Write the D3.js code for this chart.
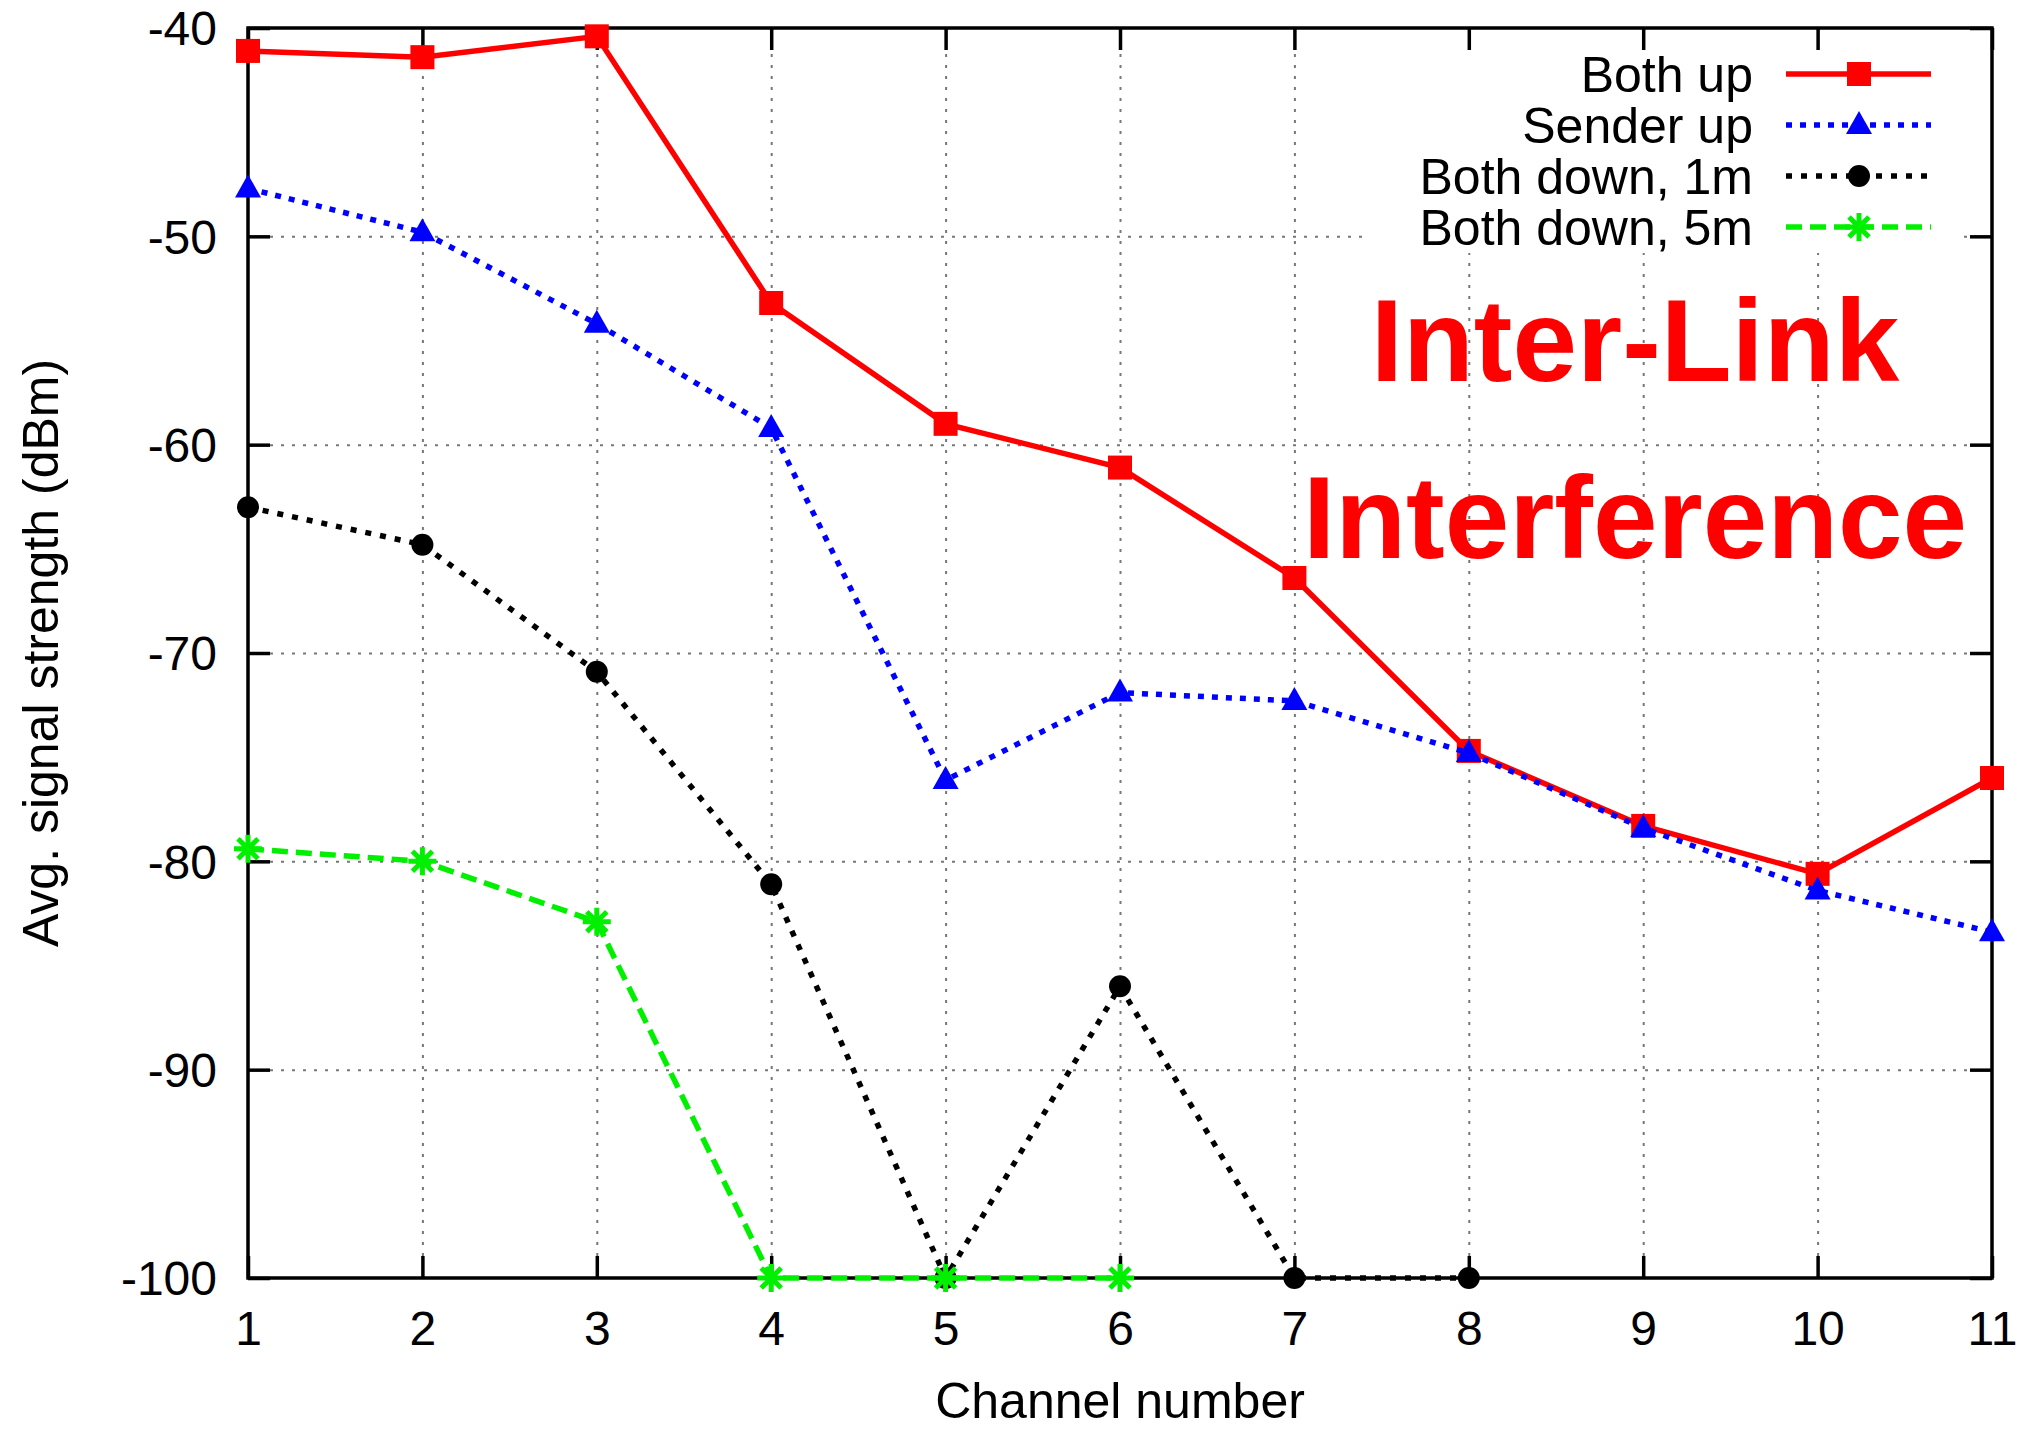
<!DOCTYPE html>
<html>
<head>
<meta charset="utf-8">
<script src="https://cdn.jsdelivr.net/npm/d3@7"></script>
<style>
	body { margin: 0; background: #fff; }
	svg { display: block; font-family: "Liberation Sans", Arial, sans-serif; }
	.axis path, .axis line { stroke: #000; }
	.grid line { stroke: #777; stroke-width: 2; stroke-dasharray: 3,8; }
	.grid path { display: none; }
</style>
</head>
<body>
<div class="plotWin"></div>
<script>

var channels = [1, 2, 3, 4, 5, 6, 7, 8, 9, 10, 11];
var yTicks = [-100, -90, -80, -70, -60, -50, -40];

var bothUp = [-41.1, -41.4, -40.4, -53.2, -59.0, -61.1, -66.4, -74.7, -78.3, -80.6, -76.0];
var senderUp = [-47.7, -49.8, -54.2, -59.2, -76.1, -71.9, -72.3, -74.8, -78.4, -81.4, -83.4];
var bothDown1m = [-63.0, -64.8, -70.9, -81.1, -100, -86.0, -100, -100];
var bothDown5m = [-79.4, -80.0, -82.9, -100, -100, -100];

var seriesNames = ["Both up", "Sender up", "Both down, 1m", "Both down, 5m"];

var SVG_WIDTH = 2041,
	SVG_HEIGHT = 1429,
	LEFT = 248,
	RIGHT = 1992,
	TOP = 28,
	BOTTOM = 1278,
	TICK = 22;

var svg = d3.select(".plotWin")
	.append("svg")
		.attr("width", SVG_WIDTH)
		.attr("height", SVG_HEIGHT);

var x = d3.scaleLinear().domain([1, 11]).range([LEFT, RIGHT]);
var y = d3.scaleLinear().domain([-100, -40]).range([BOTTOM, TOP]);

// grid lines (inner only)
svg.append("g")
	.attr("class", "grid")
	.attr("transform", "translate(0," + BOTTOM + ")")
	.call(d3.axisBottom(x).tickValues(channels.slice(1, -1)).tickSize(-(BOTTOM - TOP)).tickFormat(""));
svg.append("g")
	.attr("class", "grid")
	.attr("transform", "translate(" + LEFT + ",0)")
	.call(d3.axisLeft(y).tickValues(yTicks.slice(1, -1)).tickSize(-(RIGHT - LEFT)).tickFormat(""));

// white key box hides the grid behind the legend
svg.append("rect")
	.attr("x", 1362).attr("y", TOP + 3)
	.attr("width", 596).attr("height", 222)
	.attr("fill", "#fff");

// axes with inward ticks on all four sides
function styleAxis(g) {
	g.select(".domain").remove();
	g.selectAll(".tick line").attr("stroke-width", 3.5);
	g.selectAll(".tick text").attr("font-size", 48).attr("fill", "#000");
}

svg.append("g")
	.attr("class", "axis")
	.attr("transform", "translate(0," + BOTTOM + ")")
	.call(d3.axisBottom(x).tickValues(channels).tickSizeInner(-TICK).tickSizeOuter(0).tickPadding(0))
	.call(styleAxis)
	.selectAll(".tick text").attr("y", 0).attr("dy", 0).attr("transform", "translate(0,67)");

svg.append("g")
	.attr("class", "axis")
	.attr("transform", "translate(0," + TOP + ")")
	.call(d3.axisTop(x).tickValues(channels).tickSizeInner(-TICK).tickSizeOuter(0).tickFormat(""))
	.call(styleAxis);

svg.append("g")
	.attr("class", "axis")
	.attr("transform", "translate(" + LEFT + ",0)")
	.call(d3.axisLeft(y).tickValues(yTicks).tickSizeInner(-TICK).tickSizeOuter(0).tickFormat(function(d) { return String(d); }))
	.call(styleAxis)
	.selectAll(".tick text").attr("dy", "0.35em").attr("x", -31);

svg.append("g")
	.attr("class", "axis")
	.attr("transform", "translate(" + RIGHT + ",0)")
	.call(d3.axisRight(y).tickValues(yTicks).tickSizeInner(-TICK).tickSizeOuter(0).tickFormat(""))
	.call(styleAxis);

// border
svg.append("rect")
	.attr("x", LEFT).attr("y", TOP)
	.attr("width", RIGHT - LEFT).attr("height", BOTTOM - TOP)
	.attr("fill", "none")
	.attr("stroke", "#000")
	.attr("stroke-width", 3.5);

// axis titles
svg.append("text")
	.attr("x", (LEFT + RIGHT) / 2).attr("y", 1418)
	.attr("text-anchor", "middle")
	.attr("font-size", 50)
	.text("Channel number");

svg.append("text")
	.attr("transform", "translate(41," + ((TOP + BOTTOM) / 2) + ") rotate(-90)")
	.attr("text-anchor", "middle")
	.attr("dominant-baseline", "central")
	.attr("font-size", 50)
	.text("Avg. signal strength (dBm)");

// annotation
svg.append("g")
	.attr("font-weight", "bold")
	.attr("font-size", 116)
	.attr("fill", "#ff0000")
	.attr("text-anchor", "middle")
	.selectAll("text")
	.data([["Inter-Link", 381], ["Interference", 558]])
	.enter()
	.append("text")
		.attr("x", 1635)
		.attr("y", function(d) { return d[1]; })
		.text(function(d) { return d[0]; });

// marker shapes
function square(g, color) {
	g.append("rect").attr("x", -12).attr("y", -12).attr("width", 24).attr("height", 24).attr("fill", color);
}
function triangle(g, color) {
	g.append("path").attr("d", "M0,-14L13,9L-13,9Z").attr("fill", color);
}
function circle(g, color) {
	g.append("circle").attr("r", 11).attr("fill", color);
}
function asterisk(g, color) {
	g.append("path")
		.attr("d", "M0,-14V14M-14,0H14M-10,-10L10,10M-10,10L10,-10")
		.attr("stroke", color).attr("stroke-width", 5).attr("fill", "none");
}

var series = [
	{ name: seriesNames[0], values: bothUp, color: "#ff0000", dash: null, width: 5.5, marker: square },
	{ name: seriesNames[1], values: senderUp, color: "#0000ff", dash: "6,8", width: 5.5, marker: triangle },
	{ name: seriesNames[2], values: bothDown1m, color: "#000000", dash: "6,9", width: 5.5, marker: circle },
	{ name: seriesNames[3], values: bothDown5m, color: "#00f000", dash: "16,8", width: 5.5, marker: asterisk }
];

var line = d3.line()
	.x(function(d, i) { return x(channels[i]); })
	.y(function(d) { return y(d); });

series.forEach(function(s) {
	var g = svg.append("g");
	g.append("path")
		.attr("d", line(s.values))
		.attr("fill", "none")
		.attr("stroke", s.color)
		.attr("stroke-width", s.width)
		.attr("stroke-dasharray", s.dash);
	g.selectAll("g")
		.data(s.values)
		.enter()
		.append("g")
			.attr("transform", function(d, i) { return "translate(" + x(channels[i]) + "," + y(d) + ")"; })
			.each(function() { s.marker(d3.select(this), s.color); });
});

// legend
var legend = svg.append("g");
series.forEach(function(s, i) {
	var base = 92 + i * 51;
	legend.append("text")
		.attr("x", 1753).attr("y", base)
		.attr("text-anchor", "end")
		.attr("font-size", 50)
		.text(s.name);
	legend.append("line")
		.attr("x1", 1786).attr("x2", 1931)
		.attr("y1", base - 18).attr("y2", base - 18)
		.attr("stroke", s.color)
		.attr("stroke-width", s.width)
		.attr("stroke-dasharray", s.dash);
	var m = legend.append("g").attr("transform", "translate(1859," + (base - 18) + ")");
	s.marker(m, s.color);
});

</script>
</body>
</html>
